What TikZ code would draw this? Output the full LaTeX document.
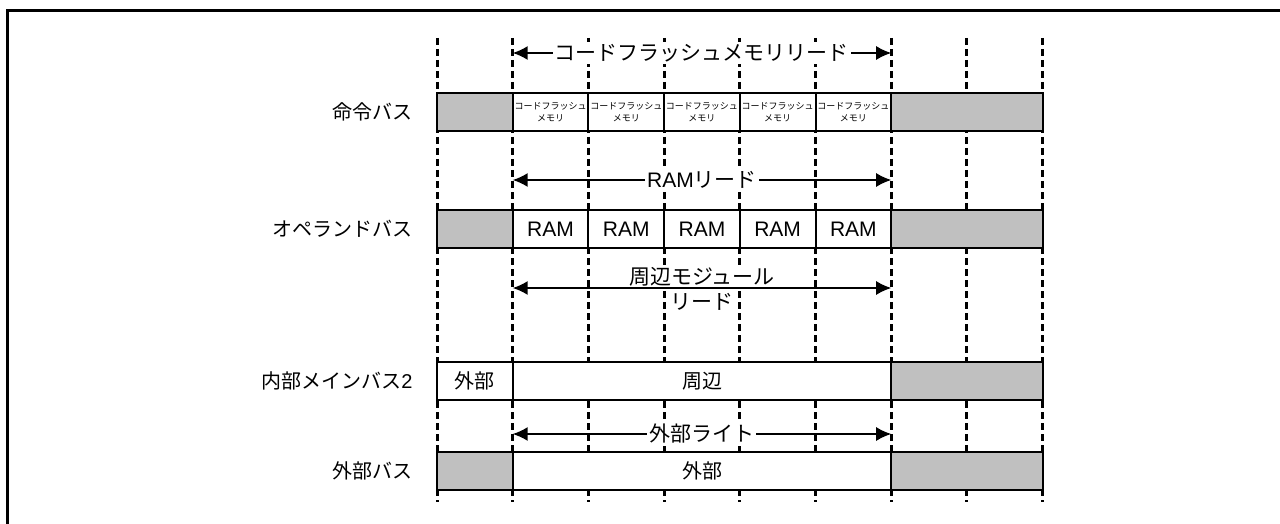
\documentclass[tikz,border=0pt]{standalone}
\usepackage{fontspec}
\setmainfont{Noto Sans CJK JP}
\newfontfamily\latinfont{Liberation Sans}
\usepackage{tikz}
\usetikzlibrary{
    arrows.meta,
    positioning,
    calc
}
\definecolor{idlegray}{RGB}{192,192,192}
\tikzset{
    buscell/.style={
        draw,
        line width=1pt,
        fill=white,
        minimum height=19pt,
        inner sep=0pt,
        align=center,
        font=\fontsize{10}{12}\selectfont
    }
}
\tikzset{
    idlecell/.style={
        buscell,
        fill=idlegray
    }
}
\tikzset{
    tinycell/.style={
        buscell,
        font=\fontsize{4.5}{6}\selectfont
    }
}
\tikzset{
    guideline/.style={
        draw,
        line width=1.5pt,
        dash pattern=on 3.5pt off 2pt
    }
}
\tikzset{
    spanarrow/.style={
        draw,
        line width=0.75pt,
        {Latex[length=7.5pt,width=7pt]}-{Latex[length=7.5pt,width=7pt]}
    }
}
\tikzset{
    spanlabel/.style={
        fill=white,
        inner sep=1pt,
        font=\fontsize{10.5}{12}\selectfont
    }
}
\tikzset{
    buslabel/.style={
        anchor=east,
        inner sep=0pt,
        font=\fontsize{10}{12}\selectfont
    }
}

\begin{document}
\begin{tikzpicture}[
    x=0.5pt,
    y=-0.5pt
]
\useasboundingbox (0,0) rectangle (1280,524);

% ------------------------------------------------------------
% Frame and cycle guides
% ------------------------------------------------------------

\draw[line width=1.5pt] (7.5,524) -- (7.5,10.5) -- (1280,10.5);

\foreach \i in {0,...,8} {
    \coordinate (top\i) at ({437+75.7*\i},38);
    \coordinate (bot\i) at ({437+75.7*\i},502);
    \draw[guideline] (top\i) -- (bot\i);
}

% ------------------------------------------------------------
% Instruction bus
% ------------------------------------------------------------

\node[buslabel] (lblins) at (413,112) {命令バス};
\node[idlecell, minimum width=37.85pt] (ins0) at (474.85,112) {};
\foreach \i in {1,...,5} {
    \node[tinycell, minimum width=37.85pt] (ins\i) at ({437+75.7*(\i+0.5)},112)
        {コードフラッシュ\\メモリ};
}
\node[idlecell, minimum width=75.7pt] (ins6) at (966.9,112) {};

% ------------------------------------------------------------
% Operand bus
% ------------------------------------------------------------

\node[buslabel] (lblopr) at (413,229) {オペランドバス};
\node[idlecell, minimum width=37.85pt] (opr0) at (474.85,229) {};
\foreach \i in {1,...,5} {
    \node[buscell, minimum width=37.85pt, font=\latinfont\fontsize{10.5}{12}\selectfont]
        (opr\i) at ({437+75.7*(\i+0.5)},229) {RAM};
}
\node[idlecell, minimum width=75.7pt] (opr6) at (966.9,229) {};

% ------------------------------------------------------------
% Internal main bus 2
% ------------------------------------------------------------

\node[buslabel] (lblmain) at (413,381) {内部メインバス{\latinfont 2}};
\node[buscell, minimum width=37.85pt] (main0) at (474.85,381) {外部};
\node[buscell, minimum width=189.25pt] (main1) at (702,381) {周辺};
\node[idlecell, minimum width=75.7pt] (main2) at (966.9,381) {};

% ------------------------------------------------------------
% External bus
% ------------------------------------------------------------

\node[buslabel] (lblext) at (413,471) {外部バス};
\node[idlecell, minimum width=37.85pt] (ext0) at (474.85,471) {};
\node[buscell, minimum width=189.25pt] (ext1) at (702,471) {外部};
\node[idlecell, minimum width=75.7pt] (ext2) at (966.9,471) {};

% ------------------------------------------------------------
% Access spans
% ------------------------------------------------------------

\coordinate (cfl) at (top1 |- 0,53);
\coordinate (cfr) at (top6 |- 0,53);
\draw[spanarrow] (cfl) -- node[spanlabel] (cflabel) {コードフラッシュメモリリード} (cfr);

\coordinate (raml) at (top1 |- 0,180);
\coordinate (ramr) at (top6 |- 0,180);
\draw[spanarrow] (raml) -- node[spanlabel] (ramlabel) {{\latinfont RAM}リード} (ramr);

\coordinate (pml) at (top1 |- 0,288);
\coordinate (pmr) at (top6 |- 0,288);
\node[spanlabel, anchor=south, inner sep=0.5pt] (pmtop) at ($(pml)!0.5!(pmr)$) {周辺モジュール};
\node[spanlabel, anchor=north, inner sep=1pt, yshift=-1.5pt] (pmbot) at ($(pml)!0.5!(pmr)$) {リード};
\draw[spanarrow] (pml) -- (pmr);

\coordinate (extl) at (top1 |- 0,434);
\coordinate (extr) at (top6 |- 0,434);
\draw[spanarrow] (extl) -- node[spanlabel] (extlabel) {外部ライト} (extr);

\end{tikzpicture}
\end{document}
